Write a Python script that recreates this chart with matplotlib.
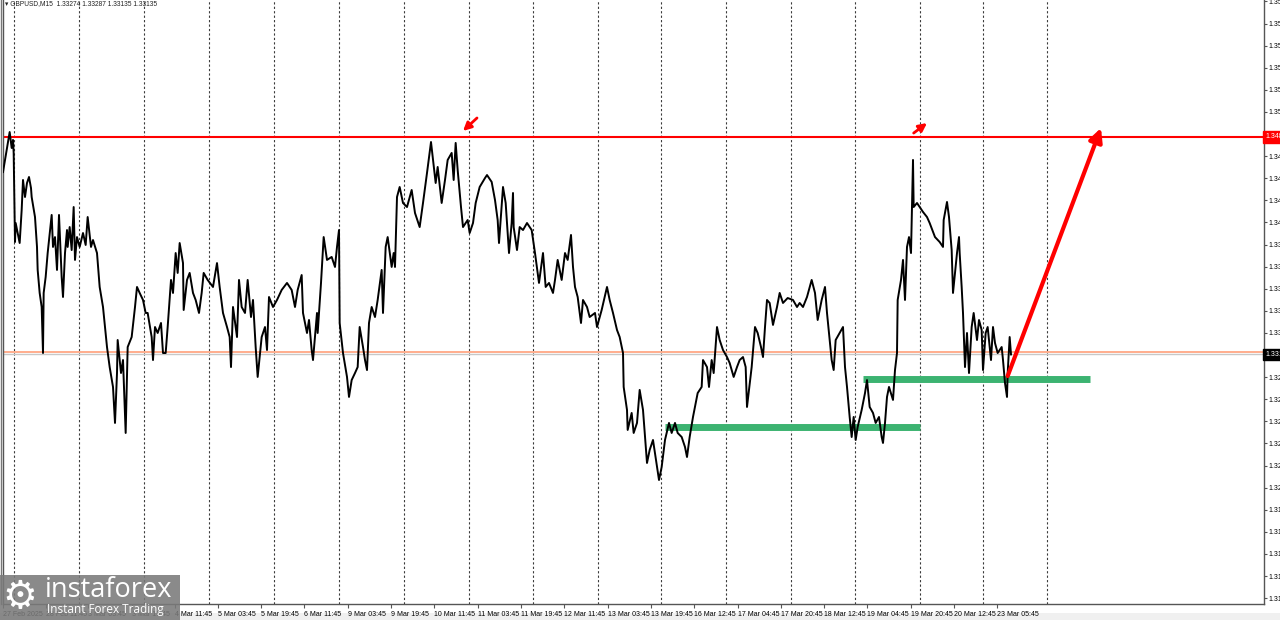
import matplotlib
import matplotlib.pyplot as plt
import matplotlib.transforms as mtransforms
from matplotlib.patches import Rectangle
from matplotlib.lines import Line2D

matplotlib.use('Agg')

# GBPUSD M15, bar index counted from the left edge of the chart, close price
bars = [
    0, 10, 13, 15, 16, 18, 19, 22, 25, 28, 30, 33, 36, 39, 42, 43, 48, 51, 52, 55,
    58, 60, 61, 64, 67, 73, 75, 78, 81, 84, 88, 90, 93, 96, 97, 100, 103, 106, 108, 111,
    115, 120, 124, 127, 132, 135, 141, 145, 150, 156, 160, 165, 168, 171, 172, 177, 180, 184, 187, 193,
    198, 201, 205, 210, 214, 217, 223, 225, 228, 232, 237, 240, 244, 247, 252, 255, 259, 262, 265, 270,
    271, 276, 280, 285, 289, 294, 298, 301, 307, 315, 321, 325, 330, 336, 340, 342, 345, 351, 354, 358,
    363, 367, 372, 375, 379, 382, 388, 393, 396, 399, 405, 411, 418, 426, 433, 438, 442, 448, 450, 456,
    459, 463, 465, 471, 472, 477, 481, 486, 493, 498, 501, 504, 505, 510, 516, 519, 523, 528, 532, 535,
    540, 543, 546, 549, 553, 558, 562, 568, 570, 574, 577, 583, 586, 588, 591, 595, 600, 606, 613, 618,
    625, 630, 636, 642, 645, 649, 652, 658, 663, 667, 673, 676, 679, 682, 687, 690, 697, 700, 705, 709,
    715, 723, 726, 733, 738, 742, 744, 750, 754, 759, 763, 765, 766, 771, 775, 780, 786, 793, 798, 804,
    810, 814, 819, 825, 828, 832, 838, 843, 847, 852, 855, 858, 862, 867, 870, 876, 880, 888, 891, 898,
    906, 910, 915, 921, 925, 930, 931, 936, 937, 943, 946, 951, 955, 960, 963, 966, 970, 975, 981, 984,
    988, 993, 999, 1003, 1008, 1012, 1018, 1023, 1026, 1030, 1035, 1038, 1042, 1048, 1050, 1056, 1059, 1063, 1066, 1071,
    1075, 1080, 1086, 1090, 1096, 1101, 1105, 1110, 1114, 1116, 1119, 1123, 1128, 1132, 1137, 1140, 1143, 1146, 1150, 1155,
    1161, 1165, 1170, 1177, 1185, 1191, 1195, 1200, 1206, 1213, 1218, 1222, 1228, 1233, 1236, 1239, 1243, 1246, 1249, 1255,
    1260, 1263, 1266, 1270, 1273, 1276, 1279, 1282, 1288, 1293, 1296, 1300, 1305, 1309, 1314, 1318, 1320, 1323, 1326, 1329,
    1335, 1338, 1341, 1342, 1347, 1350, 1353, 1356, 1359, 1362, 1365, 1366, 1371, 1375, 1380, 1386, 1390, 1398, 1405, 1410,
    1411, 1416, 1419, 1423, 1425, 1431, 1434, 1435, 1438, 1440, 1443, 1446, 1449, 1453, 1456, 1461, 1464, 1468, 1470, 1474,
    1477, 1482, 1485, 1488, 1492, 1498, 1500, 1503, 1506, 1507, 1510, 1512,
]
prices = [
    1.34538, 1.34846, 1.34723, 1.34785, 1.34685, 1.34000, 1.34146, 1.34069, 1.33992, 1.34246,
    1.34477, 1.34346, 1.34454, 1.34500, 1.34415, 1.34346, 1.34192, 1.33962, 1.33785, 1.33608,
    1.33500, 1.33146, 1.33608, 1.33731, 1.33915, 1.34208, 1.33962, 1.34038, 1.33785, 1.34208,
    1.33731, 1.33577, 1.33915, 1.34092, 1.33962, 1.34115, 1.33938, 1.34269, 1.33862, 1.34038,
    1.33962, 1.34069, 1.33977, 1.34192, 1.33962, 1.34015, 1.33915, 1.33654, 1.33500, 1.33192,
    1.33038, 1.32885, 1.32608, 1.32992, 1.33246, 1.32992, 1.33092, 1.32531, 1.33192, 1.33269,
    1.33500, 1.33654, 1.33608, 1.33554, 1.33454, 1.33454, 1.33269, 1.33092, 1.33346, 1.33300,
    1.33377, 1.33146, 1.33146, 1.33346, 1.33708, 1.33608, 1.33915, 1.33762, 1.33992, 1.33838,
    1.33477, 1.33708, 1.33762, 1.33608, 1.33554, 1.33454, 1.33608, 1.33762, 1.33708, 1.33654,
    1.33838, 1.33654, 1.33454, 1.33346, 1.33269, 1.33038, 1.33500, 1.33269, 1.33708, 1.33500,
    1.33454, 1.33708, 1.33423, 1.33554, 1.33192, 1.32962, 1.33269, 1.33346, 1.33169, 1.33577,
    1.33500, 1.33554, 1.33631, 1.33685, 1.33631, 1.33500, 1.33631, 1.33746, 1.33454, 1.33300,
    1.33400, 1.33169, 1.33092, 1.33454, 1.33300, 1.33685, 1.34038, 1.33862, 1.33885, 1.33808,
    1.33962, 1.34092, 1.33377, 1.33146, 1.32962, 1.32808, 1.32938, 1.32992, 1.33038, 1.33346,
    1.33192, 1.33092, 1.33015, 1.33377, 1.33500, 1.33423, 1.33554, 1.33785, 1.33454, 1.33962,
    1.34038, 1.33808, 1.33915, 1.33808, 1.34346, 1.34423, 1.34300, 1.34269, 1.34400, 1.34223,
    1.34115, 1.34300, 1.34531, 1.34769, 1.34631, 1.34454, 1.34577, 1.34300, 1.34477, 1.34631,
    1.34685, 1.34477, 1.34762, 1.34554, 1.34269, 1.34115, 1.34169, 1.34069, 1.34146, 1.34300,
    1.34423, 1.34492, 1.34515, 1.34462, 1.34323, 1.34169, 1.33992, 1.34423, 1.34300, 1.33915,
    1.34146, 1.34377, 1.34115, 1.33938, 1.34115, 1.34092, 1.34146, 1.34092, 1.33915, 1.33685,
    1.33915, 1.33654, 1.33685, 1.33608, 1.33708, 1.33862, 1.33708, 1.33915, 1.33862, 1.34054,
    1.33808, 1.33654, 1.33577, 1.33377, 1.33554, 1.33500, 1.33423, 1.33454, 1.33346, 1.33477,
    1.33654, 1.33554, 1.33454, 1.33323, 1.33269, 1.33146, 1.32885, 1.32708, 1.32554, 1.32685,
    1.32531, 1.32608, 1.32862, 1.32708, 1.32500, 1.32300, 1.32400, 1.32477, 1.32269, 1.32169,
    1.32269, 1.32477, 1.32608, 1.32531, 1.32608, 1.32531, 1.32500, 1.32423, 1.32346, 1.32500,
    1.32654, 1.32731, 1.32838, 1.32885, 1.33092, 1.33038, 1.32885, 1.33092, 1.32992, 1.33346,
    1.33246, 1.33169, 1.33115, 1.33069, 1.32962, 1.33038, 1.33092, 1.33115, 1.33038, 1.32731,
    1.32862, 1.33038, 1.33346, 1.33300, 1.33192, 1.33115, 1.33346, 1.33554, 1.33531, 1.33362,
    1.33500, 1.33608, 1.33531, 1.33569, 1.33554, 1.33500, 1.33531, 1.33500, 1.33577, 1.33708,
    1.33608, 1.33400, 1.33554, 1.33654, 1.33454, 1.33300, 1.33092, 1.33015, 1.33246, 1.33300,
    1.33346, 1.33038, 1.32885, 1.32654, 1.32500, 1.32654, 1.32477, 1.32577, 1.32708, 1.32838,
    1.32938, 1.32731, 1.32685, 1.32608, 1.32654, 1.32500, 1.32454, 1.32608, 1.32808, 1.32885,
    1.32785, 1.33015, 1.33146, 1.33554, 1.33708, 1.33862, 1.33554, 1.33962, 1.34038, 1.33915,
    1.34631, 1.34269, 1.34300, 1.34269, 1.34231, 1.34192, 1.34146, 1.34038, 1.34000, 1.33962,
    1.34169, 1.34308, 1.34192, 1.33938, 1.33608, 1.33915, 1.34038, 1.33915, 1.33654, 1.33454,
    1.33038, 1.33300, 1.32992, 1.33346, 1.33454, 1.33246, 1.33400, 1.33323, 1.33015, 1.33300,
    1.33346, 1.33092, 1.33346, 1.33223, 1.33146, 1.33192, 1.33092, 1.32915, 1.32808, 1.32992,
    1.33269, 1.33135,
]

header = "\u25be GBPUSD,M15  1.33274 1.33287 1.33135 1.33135"
last_close = 1.33135
resistance = 1.34808
orange_level = 1.33154
zone_upper_price = 1.32946
zone_upper_bars = [1290, 1630]
zone_lower_price = 1.32577
zone_lower_bars = [993, 1375]
forecast_bars = [1507, 1647]
forecast_prices = [1.32969, 1.34877]
mark1_bars = [711, 690]
mark1_prices = [1.34954, 1.34854]
mark2_bars = [1366, 1386]
mark2_prices = [1.34838, 1.34915]

day_separators = [16, 114, 211, 309, 406, 504, 601, 699, 795, 892, 987, 1084, 1182, 1278, 1375, 1470, 1566]
time_tick_bars = [0, 64, 128, 193, 258, 322, 387, 452, 517, 582, 647, 712, 777, 842, 907, 972,
                  1037, 1102, 1167, 1232, 1296, 1362, 1426, 1491]
time_tick_labels = ["27 Feb 2025", "28 Feb 11:45", "3 Mar 03:45", "3 Mar 19:45", "4 Mar 11:45",
                    "5 Mar 03:45", "5 Mar 19:45", "6 Mar 11:45", "9 Mar 03:45", "9 Mar 19:45",
                    "10 Mar 11:45", "11 Mar 03:45", "11 Mar 19:45", "12 Mar 11:45", "13 Mar 03:45",
                    "13 Mar 19:45", "16 Mar 12:45", "17 Mar 04:45", "17 Mar 20:45", "18 Mar 12:45",
                    "19 Mar 04:45", "19 Mar 20:45", "20 Mar 12:45", "23 Mar 05:45"]
price_ticks = [1.3585, 1.3568, 1.3551, 1.3534, 1.3517, 1.3500, 1.3483, 1.3466, 1.3449, 1.3432,
               1.3415, 1.3398, 1.3381, 1.3364, 1.3347, 1.3330, 1.3313, 1.3296, 1.3279, 1.3262,
               1.3245, 1.3228, 1.3211, 1.3194, 1.3177, 1.3160, 1.3143, 1.3126]

small_font = 'Liberation Sans'

W, H = 1280, 620
fig = plt.figure(figsize=(W / 100, H / 100), dpi=100)
fig.patch.set_facecolor('white')
ax = fig.add_axes([3 / W, 16 / H, 1261 / W, 604 / H])

for b in day_separators:
    ax.axvline(b, color='#3a3a3a', lw=0.8, ls=(0, (2, 2)), zorder=1)

ax.axhline(resistance, color='#ff0000', lw=1.5, zorder=2)
ax.axhline(orange_level, color='#ffa07a', lw=1.2, zorder=2)
ax.axhline(last_close, color='#c8c8c8', lw=1.0, zorder=2)

ax.plot(zone_upper_bars, [zone_upper_price] * 2, color='#3cb371', lw=5, solid_capstyle='butt', zorder=3)
ax.plot(zone_lower_bars, [zone_lower_price] * 2, color='#3cb371', lw=5, solid_capstyle='butt', zorder=3)

ax.plot(bars, prices, color='black', lw=1.4, zorder=4)

ax.annotate('', xy=(forecast_bars[1], forecast_prices[1]), xytext=(forecast_bars[0], forecast_prices[0]),
            arrowprops=dict(arrowstyle='-|>', color='#ff0000', lw=3, mutation_scale=20,
                            shrinkA=0, shrinkB=0), zorder=5)
for mb, mp in ((mark1_bars, mark1_prices), (mark2_bars, mark2_prices)):
    ax.annotate('', xy=(mb[1], mp[1]), xytext=(mb[0], mp[0]),
                arrowprops=dict(arrowstyle='-|>', color='#ff0000', lw=2, mutation_scale=12,
                                shrinkA=0, shrinkB=0), zorder=5)

ax.set_xlim(0, 1891.5)
ax.set_ylim(1.312153, 1.358615)

ax.spines['top'].set_visible(False)
for s in ('left', 'right', 'bottom'):
    ax.spines[s].set_color('#555555')
    ax.spines[s].set_linewidth(1)

ax.yaxis.tick_right()
ax.set_yticks(price_ticks)
ax.set_yticklabels([f"{v:.5f}" for v in price_ticks], family=small_font)
ax.tick_params(axis='y', length=2, width=0.8, color='#555555', labelsize=5, pad=1.5)

ax.set_xticks(time_tick_bars)
ax.set_xticklabels(time_tick_labels, family=small_font)
ax.tick_params(axis='x', length=3, width=0.8, color='#555555', labelsize=5, pad=2)
for lbl in ax.get_xticklabels():
    lbl.set_ha('left')

blend = mtransforms.blended_transform_factory(ax.transAxes, ax.transData)
ax.text(1.001, resistance, f"{resistance:.5f}", transform=blend, ha='left', va='center',
        color='white', fontsize=5, family=small_font, clip_on=False, zorder=6,
        bbox=dict(boxstyle='square,pad=0.3', fc='#ff0000', ec='#ff0000'))
ax.text(1.001, last_close, f"{last_close:.5f}", transform=blend, ha='left', va='center',
        color='white', fontsize=5, family=small_font, clip_on=False, zorder=6,
        bbox=dict(boxstyle='square,pad=0.3', fc='black', ec='black'))

fig.add_artist(Line2D([0.5 / W, 0.5 / W], [16 / H, 1], transform=fig.transFigure, color='#777777', lw=1))
fig.add_artist(Rectangle((0, 0), 1, 7 / H, transform=fig.transFigure, fc='#f0f0f0', ec='none', zorder=0))

fig.text(5 / W, 1 - 4 / H, header, fontsize=4.8, va='center', color='#222222',
         family=[small_font, 'DejaVu Sans'])

# instaforex watermark
fig.add_artist(Rectangle((0, 0), 180 / W, 45 / H, transform=fig.transFigure,
                         fc='#7a7a7a', ec='none', alpha=0.88, zorder=10))
fig.text(2 / W, 23 / H, "\u2699", fontsize=28, color='white', va='center', ha='left',
         family='DejaVu Sans', zorder=11)
fig.text(45 / W, 30 / H, "instaforex", fontsize=19.5, color='white', va='center', ha='left',
         family='Open Sans', zorder=11)
fig.text(47 / W, 10 / H, "Instant Forex Trading", fontsize=8.5, color='white', va='center',
         ha='left', family='Open Sans', zorder=11)

fig.savefig('out.png', dpi=100)
